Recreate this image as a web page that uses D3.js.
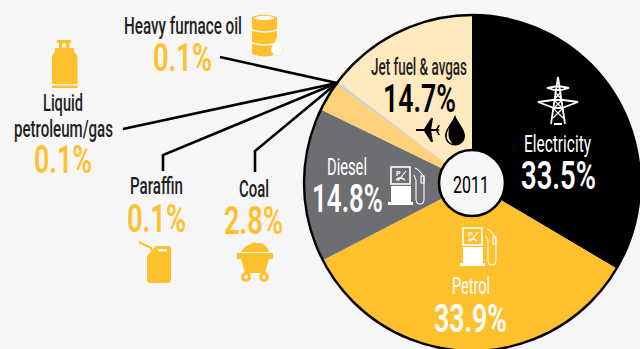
<!DOCTYPE html>
<html>
<head>
<meta charset="utf-8">
<script src="https://cdnjs.cloudflare.com/ajax/libs/d3/7.8.5/d3.min.js"></script>
<style>
html,body{margin:0;padding:0;background:#f6f6f6;overflow:hidden}
svg{display:block}
text{font-family:"Roboto","Liberation Sans","DejaVu Sans",sans-serif}
</style>
</head>
<body>
<svg id="chart" width="640" height="349"></svg>
<script>
// Fuel shares for 2011, clockwise from twelve o'clock
const categories = ["Electricity","Petrol","Diesel","Coal","Paraffin","Liquid petroleum/gas","Heavy furnace oil","Jet fuel & avgas"];
const shares = [33.5,33.9,14.8,2.8,0.1,0.1,0.1,14.7];
const sliceColours = ["#000000","#ffc02e","#6d6e71","#ffd27a","#c9c9c9","#c9c9c9","#c9c9c9","#ffe9bf"];
const centreLabel = "2011";

const GOLD = "#ffc02e", INK = "#1f1f1f", WHITE = "#ffffff", PALE = "#ffe9bf";
const cx = 472, cy = 183, R = 168, r0 = 33;

const svg = d3.select("#chart");

const pie = d3.pie().sort(null).value(d => d.v);
const arcs = pie(categories.map((c,i) => ({c, v: shares[i], colour: sliceColours[i]})));
const arc = d3.arc().innerRadius(0).outerRadius(R);

const g = svg.append("g").attr("transform",`translate(${cx},${cy})`);
g.selectAll("path.slice").data(arcs).join("path")
  .attr("class","slice").attr("d",arc).attr("fill",d => d.data.colour);
g.append("circle").attr("r",R).attr("fill","none").attr("stroke","#000").attr("stroke-width",2.4);
g.append("circle").attr("r",r0).attr("fill","#f6f6f6").attr("stroke","#000").attr("stroke-width",2.6);

// Leader lines run from each small slice's rim out to its caption
const rim = name => {
  const a = arcs.find(d => d.data.c === name);
  const m = (a.startAngle + a.endAngle) / 2;
  return [cx + Math.sin(m) * R, cy - Math.cos(m) * R];
};
const leaders = [
  ["Heavy furnace oil", [[220,57]]],
  ["Liquid petroleum/gas", [[123,129]]],
  ["Paraffin", [[163,171],[163,155]]],
  ["Coal", [[255,172],[255,151]]]
];
const line = d3.line();
const hub = rim("Liquid petroleum/gas");
leaders.forEach(([name, pts]) => {
  svg.append("path").attr("d", line([...pts, hub]))
    .attr("fill","none").attr("stroke","#000").attr("stroke-width",2.6);
});

// Caption text, fitted to a given width to get the condensed poster look
function label(str, x0, x1, base, size, fill, weight) {
  svg.append("text").attr("x",x0).attr("y",base)
    .attr("textLength",x1-x0).attr("lengthAdjust","spacingAndGlyphs")
    .attr("font-size",size).attr("font-weight",weight||500).attr("fill",fill).text(str);
}
const pct = name => d3.format(".1f")(shares[categories.indexOf(name)]) + "%";
const NAME = 24, BIG = 38;

label("Heavy furnace oil",124,242,34,NAME,INK);
label(pct("Heavy furnace oil"),153,212,71,BIG,GOLD,600);
label("Liquid",43,83,111,NAME,INK);
label("petroleum/gas",14,113,137,NAME,INK);
label(pct("Liquid petroleum/gas"),34,92,173,BIG,GOLD,600);
label("Paraffin",130,183,194,NAME,INK);
label(pct("Paraffin"),127,186,232,BIG,GOLD,600);
label("Coal",239,269,197,NAME,INK);
label(pct("Coal"),224,283,234,BIG,GOLD,600);
label("Jet fuel & avgas",371,467,75,NAME,INK);
label(pct("Jet fuel & avgas"),383,456,112,BIG,"#000",600);
label("Electricity",524,591,152,NAME,WHITE,400);
label(pct("Electricity"),521,596,189,BIG,WHITE,600);
label("Diesel",327,367,175,NAME,WHITE,400);
label(pct("Diesel"),312,383,212,BIG,WHITE,600);
label("Petrol",452,490,294,NAME,WHITE,400);
label(pct("Petrol"),434,507,332,BIG,WHITE,600);
label(centreLabel,453,489,193,NAME,"#000",400);

// Pictograms
function icon(x,y){ return svg.append("g").attr("transform",`translate(${x},${y})`); }

function pump(x,y,colour){
  const p = icon(x,y);
  p.append("rect").attr("x",3).attr("y",1).attr("width",19).attr("height",17).attr("fill","none").attr("stroke",colour).attr("stroke-width",1.6);
  p.append("path").attr("d","M10 15 L18 5").attr("stroke",colour).attr("stroke-width",1.2);
  p.append("path").attr("d","M8 14 Q12 10 17 14").attr("fill","none").attr("stroke",colour).attr("stroke-width",1.2);
  p.append("text").attr("x",8).attr("y",10).attr("font-size",7).attr("font-weight","bold").attr("fill",colour).text("P");
  p.append("rect").attr("x",3).attr("y",20).attr("width",20).attr("height",16).attr("fill",colour);
  p.append("rect").attr("x",0).attr("y",36).attr("width",25).attr("height",3).attr("fill",colour);
  p.append("path").attr("d","M27 2 C30 3 34 8 36 11 V33 Q36 38 32 38 Q28 38 28 33 V14 L26 9")
    .attr("fill","none").attr("stroke",colour).attr("stroke-width",1.1);
  p.append("path").attr("d","M33 10 h3 v7 h-3 z").attr("fill","none").attr("stroke",colour).attr("stroke-width",1.2);
}
pump(460,227,WHITE);
pump(388,166,WHITE);

// Transmission tower
const t = icon(558,77).attr("stroke",WHITE).attr("fill","none").attr("stroke-width",1.8);
t.append("path").attr("d","M0 0 L-7 47 M0 0 L7 47 M-4 47 H4");
t.append("path").attr("d","M-11 11 L-3 13 H3 L11 11 L3 9.5 H-3 Z");
t.append("path").attr("d","M-20 25 L-4 31 H4 L20 25 L5 23 H-5 Z");
t.append("path").attr("d","M-3 15 L4 23 M3 15 L-4 23 M-5 31 L5 41 M5 31 L-5 41 M-4 23 L4 31 M4 23 L-4 31").attr("stroke-width",1.2);

// Aeroplane and fuel drop
const pl = icon(416,130).attr("fill","#000");
pl.append("path").attr("d","M0 -0.9 H19 Q23 -0.9 24 0 Q23 0.9 19 0.9 H0 Z");
pl.append("path").attr("d","M15 0 L17 -12 L15 -12 L8 -1 Z M15 0 L17 12 L15 12 L8 1 Z");
pl.append("path").attr("d","M21.5 0 L24 -5 L22.5 -5 L19.5 0 L22.5 5 L24 5 Z");
const dr = icon(455,115);
dr.append("path").attr("d","M0 0 C3 8 10 14 10 21 A10 9.5 0 0 1 -10 21 C-10 14 -3 8 0 0 Z").attr("fill","#000");
dr.append("path").attr("d","M-6 13 C-8 17 -8.5 20 -8 23 C-7.5 26 -5 28 -2 29 C-5 26 -6.5 23 -6.5 20 C-6.5 18 -6.3 15 -6 13 Z").attr("fill",PALE);

// Oil barrel with drip
const b = icon(252,14);
b.append("path").attr("d","M0 3 Q12.5 -2 25 3 V40 Q12.5 45 0 40 Z").attr("fill",GOLD);
b.append("ellipse").attr("cx",12.5).attr("cy",4).attr("rx",10).attr("ry",2.2).attr("fill","#f6f6f6");
b.append("path").attr("d","M0 16 Q12.5 20 25 16 M0 29 Q12.5 33 25 29").attr("fill","none").attr("stroke","#f6f6f6").attr("stroke-width",1.4);
b.append("path").attr("d","M25 24 C27 29 30.5 31 30.5 36 A5.5 5.5 0 0 1 19.5 36 C19.5 31 23 29 25 24 Z").attr("fill","#fff").attr("stroke","#ffe9bf").attr("stroke-width",1);

// Gas cylinder
const c = icon(52,40).attr("fill",GOLD);
c.append("path").attr("d","M5 0 H19 V3 H17.5 V8 H22 V12 Q25.5 14 25.5 19 V44 H0 V19 Q0 14 3 12 V8 H7 V3 H5 Z");
c.append("rect").attr("x",0).attr("y",45.5).attr("width",25.5).attr("height",2.5);
c.append("rect").attr("x",10).attr("y",3.5).attr("width",4).attr("height",4).attr("fill","#f6f6f6");

// Jerrycan
const j = icon(147,246).attr("fill",GOLD);
j.append("path").attr("d","M9 0 H21 Q24 0 24 3 V34 Q24 37 21 37 H3 Q0 37 0 34 V10 Z");
j.append("path").attr("d","M-8 -4 L4 2 L5 6").attr("fill","none").attr("stroke",GOLD).attr("stroke-width",2);
j.append("rect").attr("x",11).attr("y",3).attr("width",9).attr("height",2.5).attr("fill","#f6f6f6");

// Coal cart
const k = icon(237,242).attr("fill",GOLD);
k.append("path").attr("d","M4 10 Q8 3 14 2 Q17 -1 20 1.5 Q24 0 27 2.5 Q31 5 32 10 Z");
k.append("path").attr("d","M0 11 H36 V17 H32 L28 31 H8 L4 17 H0 Z");
k.append("circle").attr("cx",9).attr("cy",35).attr("r",3.4).attr("fill","#f6f6f6").attr("stroke",GOLD).attr("stroke-width",3);
k.append("circle").attr("cx",27).attr("cy",35).attr("r",3.4).attr("fill","#f6f6f6").attr("stroke",GOLD).attr("stroke-width",3);
</script>
</body>
</html>
